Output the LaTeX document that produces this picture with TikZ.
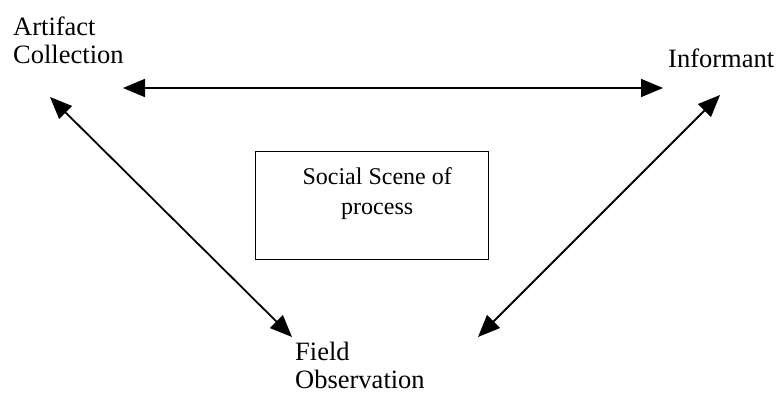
\documentclass[tikz,border=0pt]{standalone}
\usepackage{fontspec}
\setmainfont{Liberation Serif}
\usetikzlibrary{arrows.meta}

\begin{document}
\begin{tikzpicture}[x=1pt,y=-1pt,
  label/.style={align=left,inner sep=0pt,font=\fontsize{26.5}{27.5}\selectfont},
  link/.style={{Triangle[length=22pt,width=18pt]}-{Triangle[length=22pt,width=18pt]},line width=1.8pt}]
  \useasboundingbox (0,0) rectangle (783,396);
  % labels
  \node[label,anchor=north west] (art) at (13,17) {Artifact\\Collection};
  \node[label,anchor=north west] (inf) at (668,49) {Informant};
  \node[label,anchor=north west] (field) at (295,342) {Field\\Observation};
  % central box
  \node[draw,line width=1.4pt,minimum width=233pt,minimum height=108pt,anchor=north west] (scene) at (255,151) {};
  \node[anchor=north,inner sep=0pt,align=center,font=\fontsize{24}{30}\selectfont]
    (sceneText) at ([xshift=5pt,yshift=-16pt]scene.north) {Social Scene of\\process};
  % arrow ends
  \coordinate (artE) at (123,88);
  \coordinate (infW) at (663,88);
  \coordinate (artS) at (50,97);
  \coordinate (fieldN) at (292,337);
  \coordinate (infS) at (720,95);
  \coordinate (fieldE) at (478,337);
  % connectors
  \draw[link] (artE) -- (infW);
  \draw[link] (artS) -- (fieldN);
  \draw[link] (infS) -- (fieldE);
\end{tikzpicture}
\end{document}
